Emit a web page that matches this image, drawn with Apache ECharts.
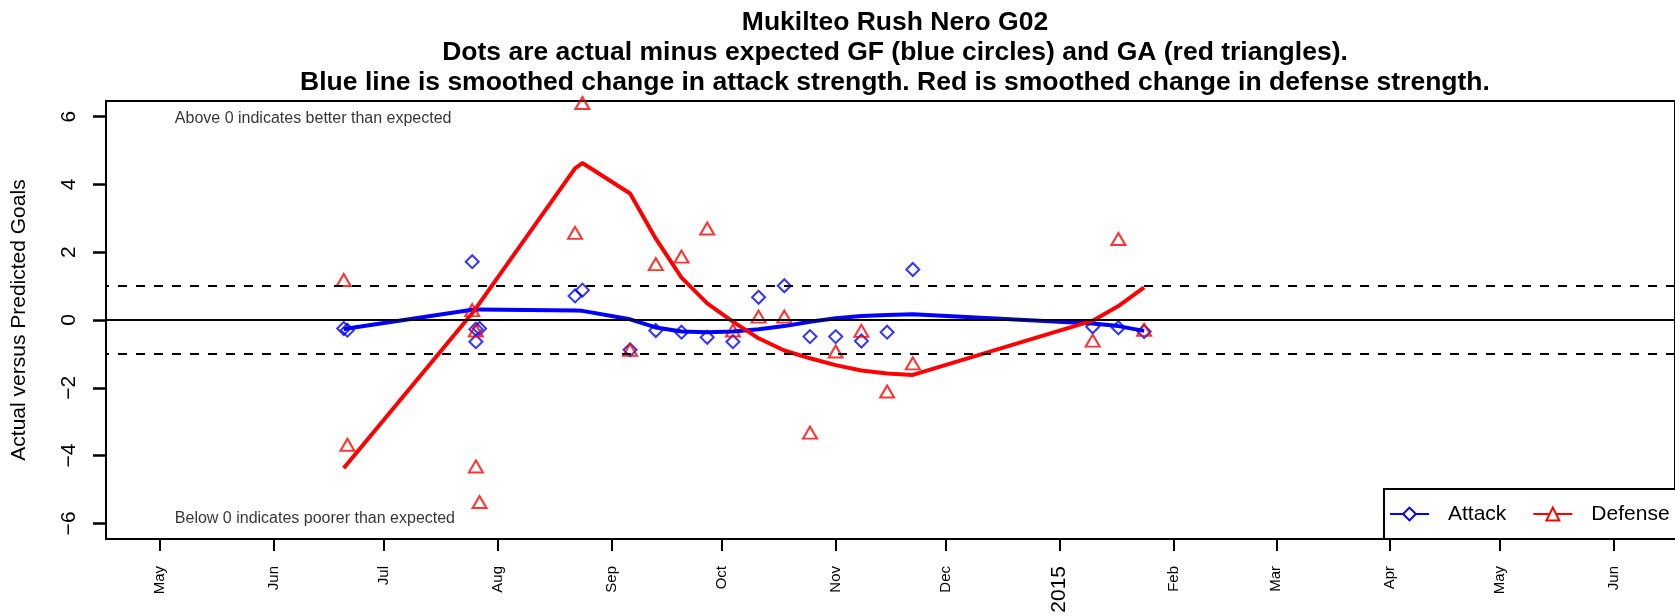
<!DOCTYPE html>
<html><head><meta charset="utf-8">
<script src="https://cdn.jsdelivr.net/npm/echarts@6/dist/echarts.min.js"></script>
<style>html,body{margin:0;padding:0;background:#fff}#c{width:1675px;height:616px}</style>
</head><body><div id="c"></div>
<script>
// ---- data ----
const gameDates = ['2014-06-20','2014-06-21','2014-07-25','2014-07-26','2014-07-26','2014-07-27','2014-08-22','2014-08-24','2014-09-06','2014-09-13','2014-09-20','2014-09-27','2014-10-04','2014-10-11','2014-10-18','2014-10-25','2014-11-01','2014-11-08','2014-11-15','2014-11-22','2015-01-10','2015-01-17','2015-01-24'];
const gfDiff = [-0.25,-0.30,1.72,-0.27,-0.64,-0.25,0.71,0.88,-0.88,-0.31,-0.36,-0.51,-0.64,0.67,1.01,-0.49,-0.49,-0.62,-0.36,1.49,-0.20,-0.23,-0.34];
const gaDiff = [1.18,-3.68,0.29,-0.31,-4.32,-5.37,2.57,6.40,-0.88,1.65,1.87,2.70,-0.31,0.10,0.10,-3.32,-0.93,-0.32,-2.11,-1.28,-0.61,2.39,-0.29];
const attackSmooth = [-0.27,-0.25,0.30,0.31,0.31,0.31,0.28,0.27,0.02,-0.22,-0.34,-0.36,-0.34,-0.27,-0.18,-0.05,0.05,0.12,0.15,0.17,-0.10,-0.18,-0.32];
const defenseSmooth = [-4.37,-4.24,0.20,0.35,0.35,0.50,4.47,4.63,3.73,2.40,1.25,0.49,-0.05,-0.54,-0.90,-1.13,-1.33,-1.49,-1.58,-1.62,-0.02,0.41,0.96];
const monthTicks = ['2014-05-01','2014-06-01','2014-07-01','2014-08-01','2014-09-01','2014-10-01','2014-11-01','2014-12-01','2015-01-01','2015-02-01','2015-03-01','2015-04-01','2015-05-01','2015-06-01'];
const monthLabels = ['May','Jun','Jul','Aug','Sep','Oct','Nov','Dec','2015','Feb','Mar','Apr','May','Jun'];
const yTickMin = -6, yTickMax = 6, yTickStep = 2;
const refLineValues = [0, 1, -1];
const noteText = ['Above 0 indicates better than expected','Below 0 indicates poorer than expected'];
const noteDates = ['2014-05-05','2014-05-05'];
const noteY = [5.93, -5.85];
const titleLines = ['Mukilteo Rush Nero G02','Dots are actual minus expected GF (blue circles) and GA (red triangles).','Blue line is smoothed change in attack strength. Red is smoothed change in defense strength.'];

// ---- chart ----
const DAY = 86400000;
const ms = s => { const p = s.split('-').map(Number); return Date.UTC(p[0], p[1]-1, p[2]); };
const tickMs = monthTicks.map(ms);
const FONT = '"Liberation Sans", Arial, Helvetica, sans-serif';
const chart = echarts.init(document.getElementById('c'), null, {renderer:'canvas'});
const pairs = arr => gameDates.map((d,i)=>[ms(d), arr[i]]);

// plot box spans y in [-Y_EXT, Y_EXT]; the tick grid spans [yTickMin, yTickMax] inside it
const Y_EXT = 6.46, PLOT_TOP = 101, PLOT_H = 438;
const pxPerUnit = PLOT_H / (2 * Y_EXT);

const option = {
  animation: false,
  backgroundColor: '#fff',
  textStyle: {fontFamily: FONT, color: '#000'},
  title: {
    text: titleLines.join('\n'),
    left: 890, top: 3, textAlign: 'center',
    textStyle: {fontFamily: FONT, fontSize: 26.5, fontWeight: 'bold', lineHeight: 30, color: '#000'}
  },
  grid: [
    {left: 106, top: PLOT_TOP, width: 1570, height: PLOT_H, show: true, borderColor: '#000', borderWidth: 2, backgroundColor: 'transparent'},
    {left: 106, top: PLOT_TOP + (Y_EXT - yTickMax) * pxPerUnit, width: 1570, height: (yTickMax - yTickMin) * pxPerUnit, show: false}
  ],
  legend: {
    left: 1384, top: 489, width: 340, orient: 'horizontal', selectedMode: false,
    data: [
      {name: 'Attack', itemStyle: {color: '#fff', borderColor: '#0000ff', borderWidth: 2}, lineStyle: {color: '#0000ff', width: 2}},
      {name: 'Defense', itemStyle: {color: '#fff', borderColor: '#ff0000', borderWidth: 2}, lineStyle: {color: '#ff0000', width: 2}}
    ],
    itemWidth: 39, itemHeight: 16, itemGap: 26,
    padding: [12, 30, 12, 5],
    borderColor: '#000', borderWidth: 2, backgroundColor: '#fff', borderRadius: 0,
    textStyle: {fontFamily: FONT, fontSize: 21, color: '#000', lineHeight: 26, padding: [0, 0, 0, 14]}
  },
  xAxis: [
    {
      type: 'value', gridIndex: 0,
      min: ms('2014-05-01') - 14.75 * DAY,
      max: ms('2014-05-01') + 412.6 * DAY,
      splitLine: {show: false},
      axisLine: {show: true, onZero: false, lineStyle: {color: '#000', width: 2}},
      axisTick: {show: true, customValues: tickMs, length: 12, lineStyle: {color: '#000', width: 2}},
      axisLabel: {
        show: true, customValues: tickMs, rotate: 90, margin: 27,
        fontFamily: FONT, fontSize: 15, color: '#000',
        formatter: v => { const i = tickMs.indexOf(v); const t = i >= 0 ? monthLabels[i] : ''; return /^\d{4}$/.test(t) ? '{yr|' + t + '}' : t; },
        rich: {yr: {fontSize: 21, fontFamily: FONT, color: '#000'}}
      }
    },
    {type: 'value', gridIndex: 1, min: 0, max: 1, show: false}
  ],
  yAxis: [
    {
      type: 'value', gridIndex: 0, min: -Y_EXT, max: Y_EXT,
      splitLine: {show: false},
      axisLine: {show: true, onZero: false, lineStyle: {color: '#000', width: 2}},
      axisTick: {show: false}, axisLabel: {show: false}
    },
    {
      type: 'value', gridIndex: 1, min: yTickMin, max: yTickMax, interval: yTickStep,
      splitLine: {show: false},
      axisLine: {show: true, onZero: false, lineStyle: {color: '#000', width: 2}},
      axisTick: {show: true, inside: false, length: 13, lineStyle: {color: '#000', width: 2.5}},
      axisLabel: {show: true, rotate: 90, margin: 26, fontFamily: FONT, fontSize: 21, color: '#000',
        formatter: v => String(v).replace('-', '\u2212')},
      name: 'Actual versus Predicted Goals', nameLocation: 'middle', nameGap: 76, nameRotate: 90,
      nameTextStyle: {fontFamily: FONT, fontSize: 21, color: '#000'}
    }
  ],
  series: [
    {
      type: 'line', name: 'ref', data: [], silent: true, z: 1,
      markLine: {
        symbol: 'none', silent: true, animation: false, label: {show: false},
        data: refLineValues.map(v => ({yAxis: v, lineStyle: v === 0 ? {type: 'solid', width: 2, color: '#000'} : {type: [9, 9], dashOffset: 6, width: 2, color: '#000'}}))
      }
    },
    {
      type: 'scatter', name: 'notes', symbolSize: 0, silent: true,
      data: noteText.map((t, i) => ({value: [ms(noteDates[i]), noteY[i]], name: t})),
      label: {show: true, position: 'right', distance: 0, formatter: '{b}', fontFamily: FONT, fontSize: 16, color: '#000'}
    },
    {
      type: 'scatter', name: 'GF', symbol: 'diamond', symbolSize: 13,
      itemStyle: {color: 'rgba(0,0,0,0)', borderColor: '#0000ff', borderWidth: 2},
      data: pairs(gfDiff)
    },
    {
      type: 'scatter', name: 'GA', symbol: 'triangle', symbolSize: [14, 12],
      itemStyle: {color: 'rgba(0,0,0,0)', borderColor: '#ff0000', borderWidth: 2},
      data: pairs(gaDiff)
    },
    {
      type: 'line', name: 'Attack', data: pairs(attackSmooth), showSymbol: false, symbol: 'diamond',
      lineStyle: {color: '#0000ff', width: 4}, itemStyle: {color: '#0000ff'}, z: 3
    },
    {
      type: 'line', name: 'Defense', data: pairs(defenseSmooth), showSymbol: false, symbol: 'triangle',
      lineStyle: {color: '#ff0000', width: 4}, itemStyle: {color: '#ff0000'}, z: 3
    }
  ]
};
chart.setOption(option);
</script></body></html>
